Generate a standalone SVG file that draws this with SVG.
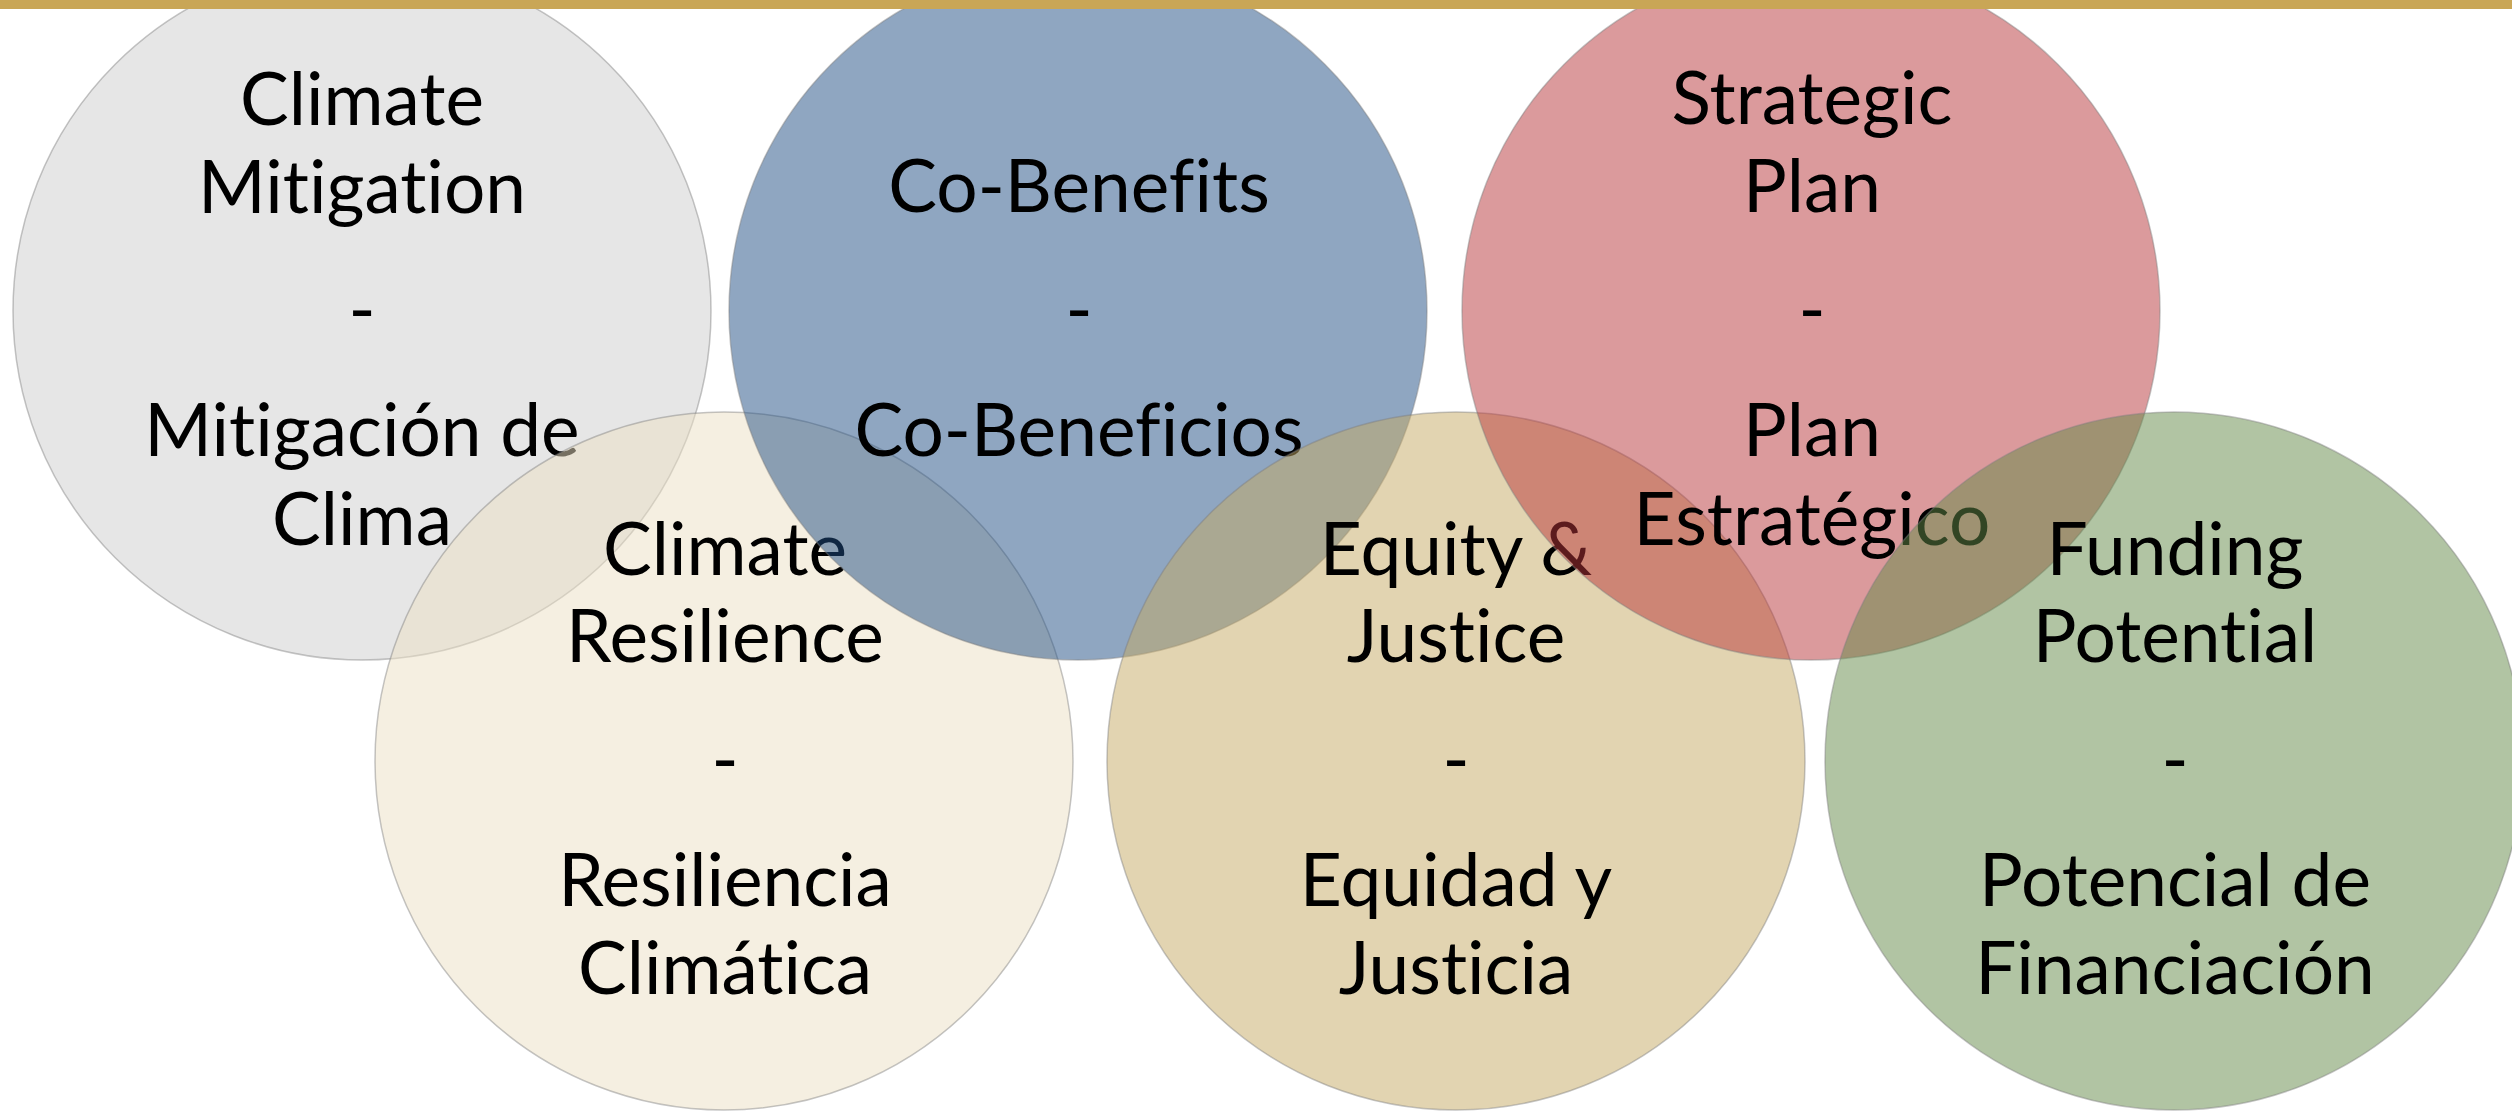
<svg xmlns="http://www.w3.org/2000/svg" width="2512" height="1111" viewBox="0 0 2512 1111">
<style>
.c{stroke:#7f7f7f;stroke-opacity:0.45;stroke-width:1.5}
.t{font-family:Lato,"Open Sans","Liberation Sans",sans-serif;font-size:73px;fill:#000;text-anchor:middle;font-variant-ligatures:none;font-feature-settings:"liga" 0,"clig" 0}
</style>
<rect width="2512" height="1111" fill="#ffffff"/>
<g id="n1">
<circle class="c" cx="362" cy="311" r="349" fill="#e6e6e6"/>
<text class="t" x="362" y="125">Climate</text>
<text class="t" x="362" y="213">Mitigation</text>
<text class="t" x="362" y="335">-</text>
<text class="t" x="362" y="456">Mitigación de</text>
<text class="t" x="362" y="545">Clima</text>
</g>
<g id="n4">
<circle class="c" cx="724" cy="761" r="349" fill="#ebdfc3" fill-opacity="0.5"/>
<text class="t" x="725" y="575">Climate</text>
<text class="t" x="725" y="662">Resilience</text>
<text class="t" x="725" y="785">-</text>
<text class="t" x="725" y="906">Resiliencia</text>
<text class="t" x="725" y="994">Climática</text>
</g>
<g id="n2">
<circle class="c" cx="1078" cy="311" r="349" fill="#1f4d83" fill-opacity="0.5"/>
<text class="t" x="1079" y="212">Co-Benefits</text>
<text class="t" x="1079" y="335">-</text>
<text class="t" x="1079" y="456">Co-Beneficios</text>
</g>
<g id="n5">
<circle class="c" cx="1456" cy="761" r="349" fill="#c5a963" fill-opacity="0.5"/>
<text class="t" x="1456" y="575">Equity &amp;</text>
<text class="t" x="1456" y="662">Justice</text>
<text class="t" x="1456" y="785">-</text>
<text class="t" x="1456" y="906">Equidad y</text>
<text class="t" x="1456" y="994">Justicia</text>
</g>
<g id="n3">
<circle class="c" cx="1811" cy="311" r="349" fill="#b73539" fill-opacity="0.5"/>
<text class="t" x="1812" y="124">Strategic</text>
<text class="t" x="1812" y="212">Plan</text>
<text class="t" x="1812" y="335">-</text>
<text class="t" x="1812" y="456">Plan</text>
<text class="t" x="1812" y="545">Estratégico</text>
</g>
<g id="n6">
<circle class="c" cx="2174" cy="761" r="349" fill="#638947" fill-opacity="0.5"/>
<text class="t" x="2175" y="575">Funding</text>
<text class="t" x="2175" y="662">Potential</text>
<text class="t" x="2175" y="785">-</text>
<text class="t" x="2175" y="906">Potencial de</text>
<text class="t" x="2175" y="994">Financiación</text>
</g>
<g id="connectors"></g>
<rect x="0" y="0" width="2512" height="9" fill="#c9a656"/>
</svg>
